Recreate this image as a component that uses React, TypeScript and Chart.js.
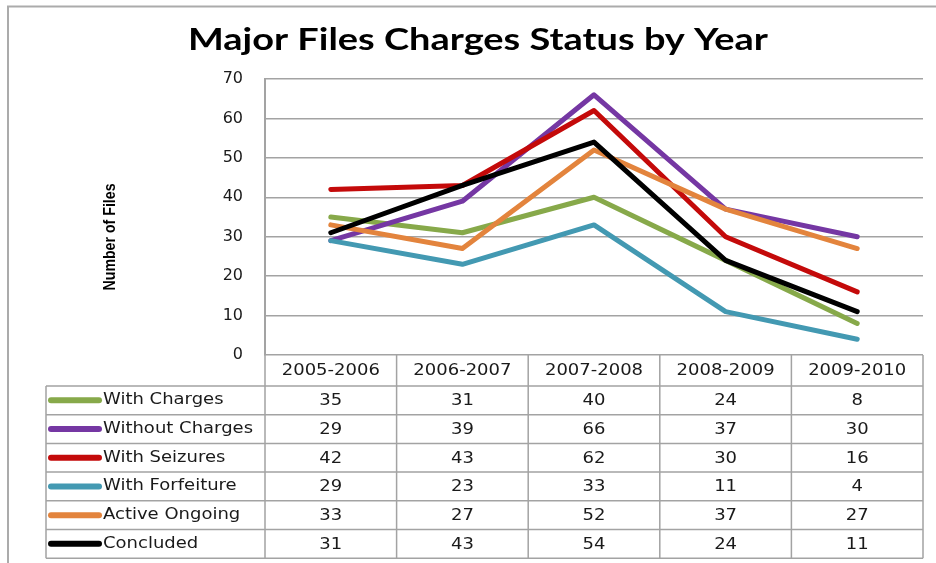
import React, { useEffect, useRef } from "react";
import { Chart, registerables } from "chart.js";

Chart.register(...registerables);

const TITLE = "Major Files Charges Status by Year";
const Y_TITLE = "Number of Files";
const CATEGORIES = ["2005-2006", "2006-2007", "2007-2008", "2008-2009", "2009-2010"];
const SERIES_NAMES = [
  "With Charges",
  "Without Charges",
  "With Seizures",
  "With Forfeiture",
  "Active Ongoing",
  "Concluded",
];
const WITH_CHARGES = [35, 31, 40, 24, 8];
const WITHOUT_CHARGES = [29, 39, 66, 37, 30];
const WITH_SEIZURES = [42, 43, 62, 30, 16];
const WITH_FORFEITURE = [29, 23, 33, 11, 4];
const ACTIVE_ONGOING = [33, 27, 52, 37, 27];
const CONCLUDED = [31, 43, 54, 24, 11];
const SERIES_VALUES = [
  WITH_CHARGES,
  WITHOUT_CHARGES,
  WITH_SEIZURES,
  WITH_FORFEITURE,
  ACTIVE_ONGOING,
  CONCLUDED,
];
const COLORS = ["#87a94a", "#7537a3", "#c40a0a", "#4399b2", "#e3843d", "#000000"];
const Y_MIN = 0;
const Y_MAX = 70;
const Y_STEP = 10;

const GRID = "#a3a3a3";
const TEXT = "#1a1a1a";
const TABLE_FONT = "15px 'DejaVu Sans', Verdana, sans-serif";
const STRETCH = 1.2;

function stretchedText(
  ctx: CanvasRenderingContext2D,
  text: string,
  x: number,
  y: number,
  sx: number,
  align: CanvasTextAlign
) {
  ctx.save();
  ctx.translate(x, y);
  ctx.scale(sx, 1);
  ctx.textAlign = align;
  ctx.fillText(text, 0, 0);
  ctx.restore();
}

const decorPlugin = {
  id: "decor",
  afterDraw(chart: any) {
    const ctx: CanvasRenderingContext2D = chart.ctx;
    const area = chart.chartArea;
    const xs = chart.scales.x;
    const W = chart.width;
    const H = chart.height;

    ctx.save();
    // outer frame
    ctx.strokeStyle = "#ababab";
    ctx.lineWidth = 2;
    ctx.beginPath();
    ctx.moveTo(8, H);
    ctx.lineTo(8, 6.5);
    ctx.lineTo(W, 6.5);
    ctx.stroke();

    // title
    ctx.fillStyle = "#000";
    ctx.font = "bold 31px Lato, 'Open Sans', sans-serif";
    ctx.textBaseline = "alphabetic";
    const tw = ctx.measureText(TITLE).width;
    stretchedText(ctx, TITLE, 478, 50, 580 / tw, "center");

    // y axis title
    ctx.font = "bold 17px 'Liberation Sans', Arial, sans-serif";
    const yw = ctx.measureText(Y_TITLE).width;
    ctx.save();
    ctx.translate(110, 237);
    ctx.rotate(-Math.PI / 2);
    ctx.textBaseline = "middle";
    stretchedText(ctx, Y_TITLE, 0, 0, 107 / yw, "center");
    ctx.restore();

    // table geometry
    const centers = CATEGORIES.map((_, i) => xs.getPixelForValue(i));
    const colW = centers[1] - centers[0];
    const bounds = [centers[0] - colW / 2, ...centers.map((c) => c + colW / 2)];
    const top = area.bottom;
    const headerH = 31;
    const rowH = 28.7;
    const tableLeft = 46;
    const headerBottom = top + headerH;
    const tableBottom = headerBottom + rowH * SERIES_NAMES.length;

    ctx.strokeStyle = GRID;
    ctx.lineWidth = 1.5;
    ctx.beginPath();
    for (let r = 0; r <= SERIES_NAMES.length; r++) {
      const y = headerBottom + r * rowH;
      ctx.moveTo(tableLeft, y);
      ctx.lineTo(bounds[bounds.length - 1], y);
    }
    ctx.moveTo(tableLeft, headerBottom);
    ctx.lineTo(tableLeft, tableBottom);
    bounds.forEach((b) => {
      ctx.moveTo(b, top);
      ctx.lineTo(b, tableBottom);
    });
    ctx.stroke();

    // header labels
    ctx.fillStyle = TEXT;
    ctx.font = TABLE_FONT;
    ctx.textBaseline = "middle";
    CATEGORIES.forEach((c, i) => {
      stretchedText(ctx, c, centers[i], top + headerH / 2 + 1, STRETCH, "center");
    });

    // rows: legend key, name, values
    SERIES_NAMES.forEach((name, r) => {
      const cy = headerBottom + r * rowH + rowH / 2;
      ctx.strokeStyle = COLORS[r];
      ctx.lineWidth = 6;
      ctx.lineCap = "round";
      ctx.beginPath();
      ctx.moveTo(51, cy);
      ctx.lineTo(99, cy);
      ctx.stroke();
      ctx.fillStyle = TEXT;
      stretchedText(ctx, name, 103, cy, STRETCH, "left");
      SERIES_VALUES[r].forEach((v, i) => {
        stretchedText(ctx, String(v), centers[i], cy + 1, STRETCH, "center");
      });
    });
    ctx.restore();
  },
};

export default function App() {
  const ref = useRef<HTMLCanvasElement | null>(null);

  useEffect(() => {
    if (!ref.current) return;
    const chart = new Chart(ref.current, {
      type: "line",
      data: {
        labels: CATEGORIES,
        datasets: SERIES_NAMES.map((name, i) => ({
          label: name,
          data: SERIES_VALUES[i],
          borderColor: COLORS[i],
          backgroundColor: COLORS[i],
          borderWidth: 5,
          pointRadius: 0,
          tension: 0,
          borderCapStyle: "round" as const,
          borderJoinStyle: "round" as const,
          order: SERIES_NAMES.length - i,
        })),
      },
      options: {
        animation: false,
        responsive: false,
        devicePixelRatio: 1,
        layout: { padding: { left: 220, top: 79, right: 13, bottom: 208 } },
        plugins: {
          legend: { display: false },
          title: { display: false },
          tooltip: { enabled: false },
        },
        scales: {
          x: {
            display: false,
            offset: true,
          },
          y: {
            min: Y_MIN,
            max: Y_MAX,
            afterFit: (s: any) => {
              s.width = 45;
            },
            ticks: {
              stepSize: Y_STEP,
              padding: 22,
              color: TEXT,
              font: { family: "'DejaVu Sans', Verdana, sans-serif", size: 16 },
            },
            grid: { color: GRID, lineWidth: 1.5, drawTicks: false },
            border: { display: true, color: GRID, width: 2 },
          },
        },
      },
      plugins: [decorPlugin],
    });
    return () => chart.destroy();
  }, []);

  return (
    <div style={{ position: "fixed", left: 0, top: 0, width: 936, height: 563, background: "#fff" }}>
      <canvas ref={ref} width={936} height={563} />
    </div>
  );
}
